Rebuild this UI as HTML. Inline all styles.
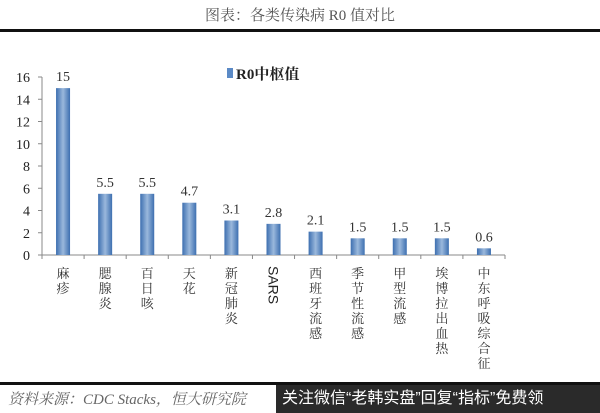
<!DOCTYPE html>
<html><head><meta charset="utf-8"><style>
body{margin:0;background:#fff;width:600px;height:413px;overflow:hidden;position:relative;font-family:"Liberation Serif","Noto Serif CJK SC",serif}
</style></head><body>
<div style="position:absolute;top:4px;left:0;width:600px;text-align:center;font-size:15px;color:#555;font-family:'Liberation Serif','Noto Serif CJK SC',serif">图表：各类传染病 R0 值对比</div>
<div style="position:absolute;top:29px;left:0;width:600px;height:3px;background:#111"></div>
<svg id="c" width="600" height="413" style="position:absolute;left:0;top:0"></svg>
<div style="position:absolute;top:382px;left:0;width:600px;height:3px;background:#111"></div>
<div style="position:absolute;top:388px;left:8px;font-size:15px;font-style:italic;color:#666">资料来源：CDC Stacks，恒大研究院</div>
<div style="position:absolute;top:385px;left:276px;width:324px;height:28px;background:#2a2a2a;color:#fff;font-family:'Liberation Sans','Noto Sans CJK SC',sans-serif;font-size:16px;line-height:28px;padding-left:6px;white-space:nowrap;overflow:hidden">关注微信“老韩实盘”回复“指标”免费领</div>
<script>
const categories=["麻疹","腮腺炎","百日咳","天花","新冠肺炎","SARS","西班牙流感","季节性流感","甲型流感","埃博拉出血热","中东呼吸综合征"];
const values=[15,5.5,5.5,4.7,3.1,2.8,2.1,1.5,1.5,1.5,0.6];
const labels=["15","5.5","5.5","4.7","3.1","2.8","2.1","1.5","1.5","1.5","0.6"];
const ticks=[0,2,4,6,8,10,12,14,16];
const svg=document.getElementById('c');const NS="http://www.w3.org/2000/svg";
const x0=42,x1=505,y0=255,y16=77;
const band=(x1-x0)/categories.length;
const y=v=>y0-(y0-y16)*v/16;
const xc=i=>x0+band*(i+0.5);
function el(t,a,p){const e=document.createElementNS(NS,t);for(const k in a)e.setAttribute(k,a[k]);(p||svg).appendChild(e);return e;}
const defs=el('defs',{});const g=el('linearGradient',{id:'bg',x1:0,x2:1,y1:0,y2:0},defs);
el('stop',{offset:0,'stop-color':'#3d6fb0'},g);el('stop',{offset:0.5,'stop-color':'#9ab8dc'},g);el('stop',{offset:1,'stop-color':'#3d6fb0'},g);
const ax=el('line',{x1:x0,x2:x0,y1:y16,y2:y0,stroke:'#888'});

const bx=el('line',{x1:x0,x2:x1,y1:y0,y2:y0,stroke:'#888'});

ticks.forEach(t=>{
 el('line',{x1:x0-4,x2:x0,y1:y(t),y2:y(t),stroke:'#888'});
 const tx=el('text',{x:x0-12,y:y(t)+5,'text-anchor':'end','font-size':14,fill:'#222'});tx.textContent=t;
 
});
for(let i=0;i<=categories.length;i++)el('line',{x1:x0+band*i,x2:x0+band*i,y1:y0,y2:y0+4,stroke:'#888'});
categories.forEach((c,i)=>{
 const r=el('rect',{x:xc(i)-7,y:y(values[i]),width:14,height:y0-y(values[i]),fill:'url(#bg)'});
 
 const v=el('text',{x:xc(i),y:y(values[i])-7,'text-anchor':'middle','font-size':14,fill:'#333'});v.textContent=labels[i];
 
 if(c==="SARS"){
  const t=el('text',{x:xc(i)-5,y:266,'font-size':14,fill:'#222',transform:`rotate(90 ${xc(i)-5} 266)`,'font-family':'Liberation Sans,sans-serif'});t.textContent=c;
  
 }else{
  const t=el('text',{'font-size':13,fill:'#333','text-anchor':'middle'});
  
  [...c].forEach((ch,k)=>{const s=el('tspan',{x:xc(i),y:278+k*15},t);s.textContent=ch;});
 }
});
const lr=el('rect',{x:227,y:68,width:6,height:10,fill:'#5b8ac6'});

const lt=el('text',{x:236,y:79,'font-size':15,'font-weight':'bold',fill:'#222'});lt.textContent="R0中枢值";

</script>
</body></html>
